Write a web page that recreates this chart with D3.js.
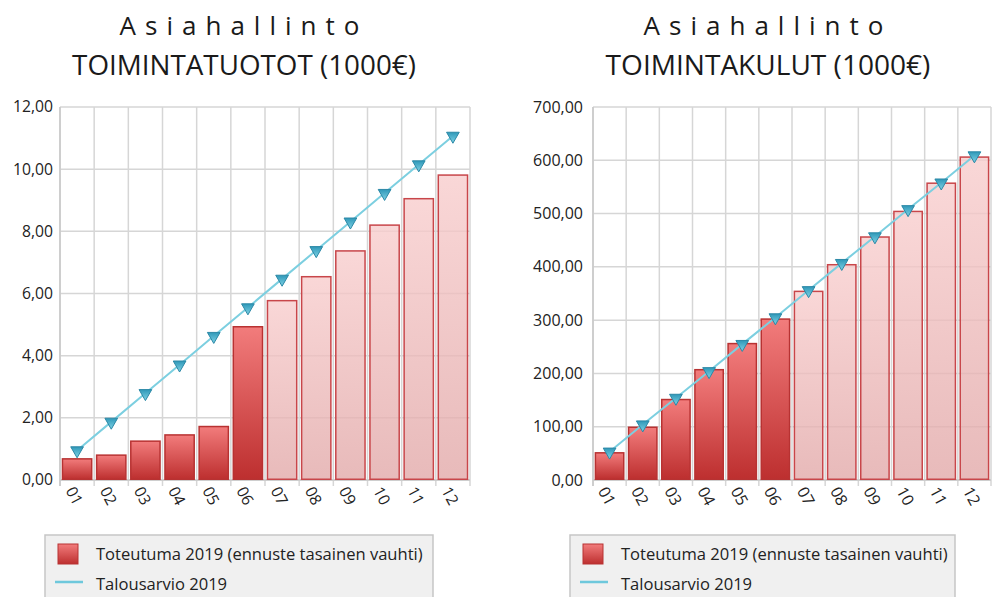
<!DOCTYPE html>
<html><head><meta charset="utf-8">
<script src="https://cdn.jsdelivr.net/npm/d3@7/dist/d3.min.js"></script>
<style>
html,body{margin:0;padding:0;background:#fff;}
svg{display:block;font-family:"Open Sans","Noto Sans",sans-serif;}
</style></head>
<body>
<svg id="c" width="992" height="597"></svg>
<script>
const months = ["01","02","03","04","05","06","07","08","09","10","11","12"];
const actualCount = 6; // months 01-06 are actuals, 07-12 forecast
const titleTop = "Asiahallinto";
const leftTitle = "TOIMINTATUOTOT (1000€)";
const rightTitle = "TOIMINTAKULUT (1000€)";
const leftBars = [0.68, 0.80, 1.25, 1.45, 1.72, 4.93, 5.77, 6.54, 7.37, 8.20, 9.05, 9.81];
const leftBudget = [0.95, 1.87, 2.79, 3.71, 4.63, 5.55, 6.47, 7.39, 8.31, 9.23, 10.15, 11.07];
const leftTicks = [0, 2, 4, 6, 8, 10, 12];
const rightBars = [51, 99, 151, 207, 256, 302, 354, 404, 456, 504, 557, 606];
const rightBudget = [53, 104, 154, 204, 255, 305, 356, 407, 457, 508, 558, 609];
const rightTicks = [0, 100, 200, 300, 400, 500, 600, 700];
const legendLabels = ["Toteutuma 2019 (ennuste tasainen vauhti)", "Talousarvio 2019"];

const svg = d3.select("#c");
const defs = svg.append("defs");
const g1 = defs.append("linearGradient").attr("id","gRed").attr("x1",0).attr("y1",0).attr("x2",0).attr("y2",1);
g1.append("stop").attr("offset","0%").attr("stop-color","#f27c7c");
g1.append("stop").attr("offset","100%").attr("stop-color","#bd2f2f");
const g2 = defs.append("linearGradient").attr("id","gPink").attr("x1",0).attr("y1",0).attr("x2",0).attr("y2",1);
g2.append("stop").attr("offset","0%").attr("stop-color","#f8cdcd");
g2.append("stop").attr("offset","100%").attr("stop-color","#e2a9a9");
const g3 = defs.append("linearGradient").attr("id","gTri").attr("x1",0).attr("y1",0).attr("x2",0).attr("y2",1);
g3.append("stop").attr("offset","0%").attr("stop-color","#7fd3e6");
g3.append("stop").attr("offset","100%").attr("stop-color","#2f98b8");

const fmt = v => d3.format(".2f")(v).replace(".", ",");

function fitText(sel, width) {
  const w = sel.node().getComputedTextLength();
  const fs = parseFloat(sel.attr("font-size"));
  sel.attr("font-size", fs * width / w);
}

function chart(cfg) {
  const {x0, x1, y0, y1, bars, budget, ticks, title, titleCx, sub, subW, legX, legW, labelRight, labelW} = cfg;
  const g = svg.append("g");
  const x = d3.scaleBand().domain(months).range([x0, x1]).paddingInner(0.1).paddingOuter(0.05);
  const y = d3.scaleLinear().domain([0, d3.max(ticks)]).range([y1, y0]);

  // titles
  g.append("text").attr("x", titleCx).attr("y", 35).attr("text-anchor","middle")
    .attr("font-size", 26).attr("fill","#1a1a1a").attr("letter-spacing", "9px").text(title);
  const t2 = g.append("text").attr("x", titleCx).attr("y", 75).attr("text-anchor","middle")
    .attr("font-size", 26).attr("fill","#1a1a1a").text(sub);
  fitText(t2, subW);

  // grid
  const step = (x1 - x0) / months.length;
  const vlines = d3.range(months.length + 1).map(i => x0 + i * step);
  g.append("g").selectAll("line").data(ticks).join("line")
    .attr("x1", x0).attr("x2", x1).attr("y1", d => y(d)).attr("y2", d => y(d))
    .attr("stroke","#d6d6d6").attr("stroke-width",1.5);
  g.append("g").selectAll("line").data(vlines).join("line")
    .attr("x1", d => d).attr("x2", d => d).attr("y1", y0).attr("y2", y1 + 6)
    .attr("stroke","#d6d6d6").attr("stroke-width",1.5);
  g.append("line").attr("x1",x0).attr("x2",x0).attr("y1",y0).attr("y2",y1+6).attr("stroke","#c8c8c8").attr("stroke-width",1.5);
  g.append("line").attr("x1",x0).attr("x2",x1).attr("y1",y1).attr("y2",y1).attr("stroke","#c8c8c8").attr("stroke-width",1.5);

  // y labels
  const yl = g.append("g").selectAll("text").data(ticks).join("text")
    .attr("x", labelRight).attr("y", d => y(d)).attr("dy","0.35em").attr("text-anchor","end")
    .attr("font-size", 14).attr("fill","#222").text(fmt);
  const widest = yl.filter(d => d === d3.max(ticks));
  const fs = 14 * labelW / widest.node().getComputedTextLength();
  yl.attr("font-size", fs);

  // x labels
  g.append("g").selectAll("text").data(months).join("text")
    .attr("transform", d => `translate(${x(d) + x.bandwidth()/2 - 7},${y1 + 8}) rotate(62)`)
    .attr("font-size", fs).attr("fill","#222").attr("text-anchor","start").attr("dy","0.35em")
    .text(d => d);

  // bars
  g.append("g").selectAll("rect").data(bars).join("rect")
    .attr("x", (d,i) => x(months[i]) + 0.75)
    .attr("width", x.bandwidth() - 1.5)
    .attr("y", d => y(d))
    .attr("height", d => y1 - y(d) - 0.75)
    .attr("fill", (d,i) => i < actualCount ? "url(#gRed)" : "url(#gPink)")
    .attr("fill-opacity", (d,i) => i < actualCount ? 1 : 0.8)
    .attr("stroke", (d,i) => i < actualCount ? "#b83232" : "#c8464a")
    .attr("stroke-width", 1.5);

  // budget line
  const line = d3.line().x((d,i) => x(months[i]) + x.bandwidth()/2).y(d => y(d));
  g.append("path").datum(budget).attr("d", line).attr("fill","none")
    .attr("stroke","#7ccfe0").attr("stroke-width",2);
  const tri = d3.symbol().type(d3.symbolTriangle).size(70);
  g.append("g").selectAll("path").data(budget).join("path")
    .attr("d", tri)
    .attr("transform", (d,i) => `translate(${x(months[i]) + x.bandwidth()/2},${y(d)}) rotate(180)`)
    .attr("fill","url(#gTri)").attr("stroke","#2b88a6").attr("stroke-width",1);

  // legend
  const lg = g.append("g");
  lg.append("rect").attr("x", legX).attr("y", 535).attr("width", legW).attr("height", 70)
    .attr("fill","#f0f0f0").attr("stroke","#c6c6c6").attr("stroke-width",1.5);
  lg.append("rect").attr("x", legX + 13).attr("y", 544).attr("width", 20).attr("height", 20)
    .attr("fill","url(#gRed)").attr("stroke","#b83232").attr("stroke-width",1);
  lg.append("line").attr("x1", legX + 10).attr("x2", legX + 38).attr("y1", 582).attr("y2", 582)
    .attr("stroke","#6ec8dc").attr("stroke-width",2.5);
  const lt1 = lg.append("text").attr("x", legX + 51).attr("y", 560).attr("font-size", 14.5)
    .attr("fill","#222").text(legendLabels[0]);
  fitText(lt1, 327);
  lg.append("text").attr("x", legX + 51).attr("y", 590).attr("font-size", lt1.attr("font-size"))
    .attr("fill","#222").text(legendLabels[1]);
}

chart({x0: 60, x1: 470, y0: 107, y1: 480, bars: leftBars, budget: leftBudget, ticks: leftTicks,
  title: titleTop, titleCx: 244, sub: leftTitle, subW: 344, legX: 45, legW: 388, labelRight: 53, labelW: 40});
chart({x0: 593, x1: 991, y0: 107, y1: 480, bars: rightBars, budget: rightBudget, ticks: rightTicks,
  title: titleTop, titleCx: 768, sub: rightTitle, subW: 325, legX: 570, legW: 385, labelRight: 583, labelW: 50});
</script>
</body></html>
